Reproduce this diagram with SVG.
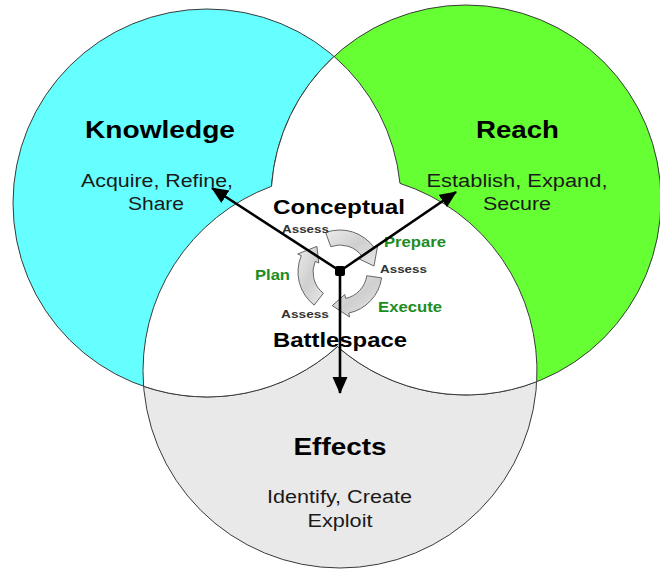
<svg xmlns="http://www.w3.org/2000/svg" width="660" height="577" viewBox="0 0 660 577">
<defs>
<style>
.circ{stroke:#3a3a3a;stroke-width:1}
.title{font-family:"Liberation Sans",Arial,sans-serif;font-weight:bold;font-size:24px;fill:#000;text-anchor:middle}
.sub{font-family:"Liberation Sans",Arial,sans-serif;font-size:18px;fill:#1a1a1a;text-anchor:middle}
.mid{font-family:"Liberation Sans",Arial,sans-serif;font-weight:bold;font-size:20px;fill:#000;text-anchor:middle}
.step{font-family:"Liberation Sans",Arial,sans-serif;font-weight:bold;font-size:14px;fill:#1e8c1e}
.assess{font-family:"Liberation Sans",Arial,sans-serif;font-weight:bold;font-size:11px;fill:#333}
.cyc{fill:url(#cycg);stroke:#666;stroke-width:1}
.conn{stroke:#000;stroke-width:2.6;fill:none;marker-end:url(#ah)}
</style>
<linearGradient id="cycg" x1="0" y1="0" x2="1" y2="1">
<stop offset="0" stop-color="#ececec"/>
<stop offset="0.5" stop-color="#cfcfcf"/>
<stop offset="1" stop-color="#e8e8e8"/>
</linearGradient>
<marker id="ah" markerUnits="userSpaceOnUse" markerWidth="18" markerHeight="16" refX="16" refY="7.5" orient="auto">
<path d="M0,0 L17,7.5 L0,15 z" fill="#000"/>
</marker>
</defs>
<rect width="660" height="577" fill="#fff"/>
<g id="effects">
<circle class="circ" cx="340" cy="371" r="197" fill="#e9e9e9"/>
</g>
<g id="knowledge">
<circle class="circ" cx="207" cy="203" r="194" fill="#66ffff"/>
</g>
<g id="reach">
<circle class="circ" cx="466" cy="200" r="195" fill="#66ff33"/>
</g>
<g id="conceptual-battlespace">
<path class="circ" fill="#fff" d="M334.07,56.4 A195,195 0 0,0 271.5,186.3 A197,197 0 0,0 143.6,386.3 A194,194 0 0,0 337.43,346.6 A195,195 0 0,0 536.7,381.7 A197,197 0 0,0 400.0,183.4 A194,194 0 0,0 334.07,56.4 Z"/>
</g>
<g id="knowledge-text">
<text class="title" x="160" y="138" textLength="150" lengthAdjust="spacingAndGlyphs">Knowledge</text>
<text class="sub" x="157" y="187" textLength="152" lengthAdjust="spacingAndGlyphs">Acquire, Refine,</text>
<text class="sub" x="156" y="210" textLength="56" lengthAdjust="spacingAndGlyphs">Share</text>
</g>
<g id="reach-text">
<text class="title" x="517.5" y="138" textLength="83" lengthAdjust="spacingAndGlyphs">Reach</text>
<text class="sub" x="517" y="187" textLength="181" lengthAdjust="spacingAndGlyphs">Establish, Expand,</text>
<text class="sub" x="517" y="210" textLength="68" lengthAdjust="spacingAndGlyphs">Secure</text>
</g>
<g id="effects-text">
<text class="title" x="340" y="455" textLength="93" lengthAdjust="spacingAndGlyphs">Effects</text>
<text class="sub" x="339.5" y="503" textLength="145" lengthAdjust="spacingAndGlyphs">Identify, Create</text>
<text class="sub" x="340" y="527" textLength="65" lengthAdjust="spacingAndGlyphs">Exploit</text>
</g>
<g id="center-text">
<text class="mid" x="339" y="214" textLength="132" lengthAdjust="spacingAndGlyphs">Conceptual</text>
<text class="mid" x="340" y="347" textLength="134" lengthAdjust="spacingAndGlyphs">Battlespace</text>
</g>
<g id="cycle">
<path class="cyc" d="M325.64,232.53 A42,42 0 0,1 374.41,247.91 L377.68,245.61 L373.98,266.01 L358.84,258.81 L362.12,256.51 A27,27 0 0,0 330.77,246.63 Z"/>
<path class="cyc" d="M381.59,277.85 A42,42 0 0,1 348.73,313.08 L349.56,316.99 L332.24,305.62 L344.78,294.50 L345.61,298.41 A27,27 0 0,0 366.74,275.76 Z"/>
<path class="cyc" d="M314.14,305.10 A42,42 0 0,1 301.34,255.59 L297.66,254.03 L316.92,246.36 L318.83,263.01 L315.15,261.45 A27,27 0 0,0 323.38,293.28 Z"/>
<text class="assess" x="282" y="233" textLength="47" lengthAdjust="spacingAndGlyphs">Assess</text>
<text class="assess" x="380" y="273" textLength="47" lengthAdjust="spacingAndGlyphs">Assess</text>
<text class="assess" x="281" y="318" textLength="48" lengthAdjust="spacingAndGlyphs">Assess</text>
<text class="step" x="384" y="247" textLength="62" lengthAdjust="spacingAndGlyphs">Prepare</text>
<text class="step" x="255" y="280" textLength="35" lengthAdjust="spacingAndGlyphs">Plan</text>
<text class="step" x="378" y="312" textLength="64" lengthAdjust="spacingAndGlyphs">Execute</text>
</g>
<g id="connectors">
<path class="conn" d="M340,271 L212,188"/>
<path class="conn" d="M340,271 L456,192"/>
<path class="conn" d="M340,271 L340,393"/>
<rect x="335" y="266" width="10" height="10" rx="2" fill="#000"/>
</g>
</svg>
